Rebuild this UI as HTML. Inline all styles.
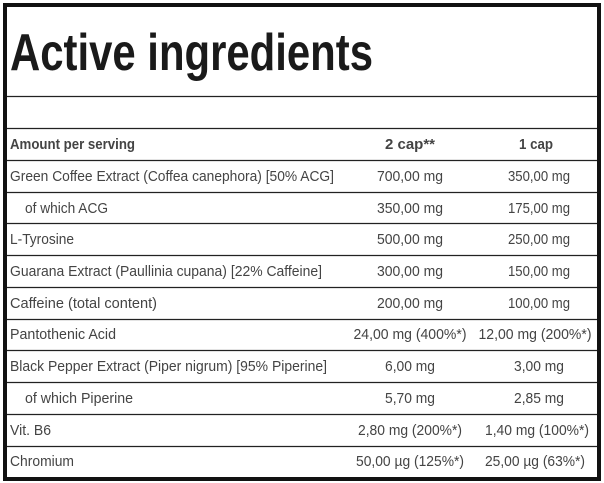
<!DOCTYPE html><html><head><style>body{margin:0;background:#fff}svg{display:block}</style></head><body>
<svg width="604" height="483" xmlns="http://www.w3.org/2000/svg" font-family="Liberation Sans, sans-serif">
<rect x="0" y="0" width="604" height="483" fill="#fff"/>
<rect x="5" y="5" width="594" height="474" fill="none" stroke="#111" stroke-width="4"/>
<text x="10" y="70" font-size="52" font-weight="bold" fill="#1a1a1a" textLength="363" lengthAdjust="spacingAndGlyphs">Active ingredients</text>
<g stroke="#222" stroke-width="1.2">
<line x1="7" x2="597" y1="96.5" y2="96.5"/><line x1="7" x2="597" y1="128.5" y2="128.5"/><line x1="7" x2="597" y1="160.5" y2="160.5"/><line x1="7" x2="597" y1="192.5" y2="192.5"/><line x1="7" x2="597" y1="223.5" y2="223.5"/><line x1="7" x2="597" y1="255.5" y2="255.5"/><line x1="7" x2="597" y1="287.5" y2="287.5"/><line x1="7" x2="597" y1="319.5" y2="319.5"/><line x1="7" x2="597" y1="350.5" y2="350.5"/><line x1="7" x2="597" y1="382.5" y2="382.5"/><line x1="7" x2="597" y1="414.5" y2="414.5"/><line x1="7" x2="597" y1="446.5" y2="446.5"/>
</g>
<g font-size="15" fill="#444" font-weight="bold">
<text x="10" y="149" textLength="125" lengthAdjust="spacingAndGlyphs">Amount per serving</text>
<text x="410" y="149" text-anchor="middle" textLength="50" lengthAdjust="spacingAndGlyphs">2 cap**</text>
<text x="536" y="149" text-anchor="middle" textLength="34" lengthAdjust="spacingAndGlyphs">1 cap</text>
</g>
<g font-size="15" fill="#444">
<text x="10" y="181" textLength="324" lengthAdjust="spacingAndGlyphs">Green Coffee Extract (Coffea canephora) [50% ACG]</text>
<text x="25" y="213" textLength="83" lengthAdjust="spacingAndGlyphs">of which ACG</text>
<text x="10" y="244" textLength="64" lengthAdjust="spacingAndGlyphs">L-Tyrosine</text>
<text x="10" y="276" textLength="312" lengthAdjust="spacingAndGlyphs">Guarana Extract (Paullinia cupana) [22% Caffeine]</text>
<text x="10" y="308" textLength="147" lengthAdjust="spacingAndGlyphs">Caffeine (total content)</text>
<text x="10" y="339" textLength="106" lengthAdjust="spacingAndGlyphs">Pantothenic Acid</text>
<text x="10" y="371" textLength="317" lengthAdjust="spacingAndGlyphs">Black Pepper Extract (Piper nigrum) [95% Piperine]</text>
<text x="25" y="403" textLength="108" lengthAdjust="spacingAndGlyphs">of which Piperine</text>
<text x="10" y="435" textLength="41" lengthAdjust="spacingAndGlyphs">Vit. B6</text>
<text x="10" y="466" textLength="64" lengthAdjust="spacingAndGlyphs">Chromium</text>
<g text-anchor="middle">
<text x="410" y="181" textLength="66" lengthAdjust="spacingAndGlyphs">700,00 mg</text><text x="539" y="181" textLength="62" lengthAdjust="spacingAndGlyphs">350,00 mg</text>
<text x="410" y="213" textLength="66" lengthAdjust="spacingAndGlyphs">350,00 mg</text><text x="539" y="213" textLength="62" lengthAdjust="spacingAndGlyphs">175,00 mg</text>
<text x="410" y="244" textLength="66" lengthAdjust="spacingAndGlyphs">500,00 mg</text><text x="539" y="244" textLength="62" lengthAdjust="spacingAndGlyphs">250,00 mg</text>
<text x="410" y="276" textLength="66" lengthAdjust="spacingAndGlyphs">300,00 mg</text><text x="539" y="276" textLength="62" lengthAdjust="spacingAndGlyphs">150,00 mg</text>
<text x="410" y="308" textLength="66" lengthAdjust="spacingAndGlyphs">200,00 mg</text><text x="539" y="308" textLength="62" lengthAdjust="spacingAndGlyphs">100,00 mg</text>
<text x="410" y="339" textLength="113" lengthAdjust="spacingAndGlyphs">24,00 mg (400%*)</text><text x="535" y="339" textLength="113" lengthAdjust="spacingAndGlyphs">12,00 mg (200%*)</text>
<text x="410" y="371" textLength="50" lengthAdjust="spacingAndGlyphs">6,00 mg</text><text x="539" y="371" textLength="50" lengthAdjust="spacingAndGlyphs">3,00 mg</text>
<text x="410" y="403" textLength="50" lengthAdjust="spacingAndGlyphs">5,70 mg</text><text x="539" y="403" textLength="50" lengthAdjust="spacingAndGlyphs">2,85 mg</text>
<text x="410" y="435" textLength="104" lengthAdjust="spacingAndGlyphs">2,80 mg (200%*)</text><text x="537" y="435" textLength="104" lengthAdjust="spacingAndGlyphs">1,40 mg (100%*)</text>
<text x="410" y="466" textLength="108" lengthAdjust="spacingAndGlyphs">50,00 µg (125%*)</text><text x="535" y="466" textLength="100" lengthAdjust="spacingAndGlyphs">25,00 µg (63%*)</text>
</g>
</g>
</svg>
</body></html>
